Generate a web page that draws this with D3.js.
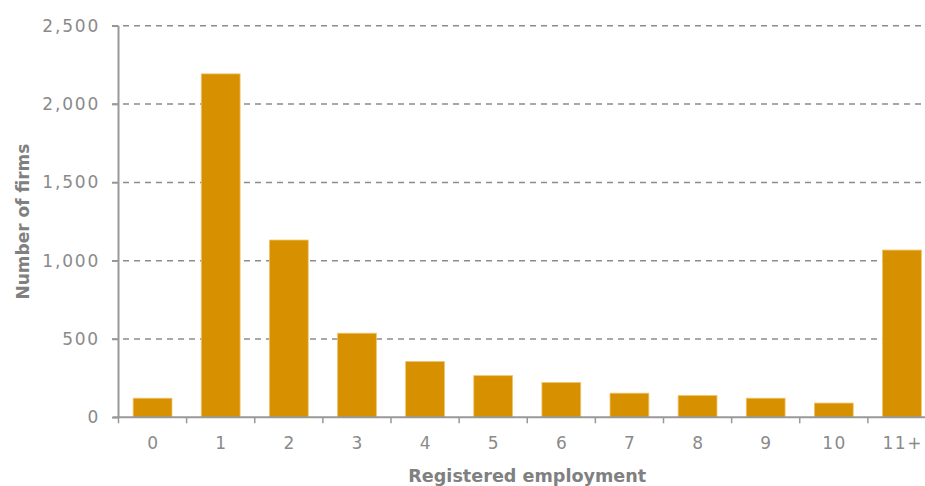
<!DOCTYPE html>
<html><head><meta charset="utf-8">
<script src="https://cdn.jsdelivr.net/npm/d3@7"></script>
<style>
html,body{margin:0;padding:0;background:#fff;overflow:hidden}
text{font-family:"DejaVu Sans",sans-serif}
</style></head>
<body><div id="chart"></div>
<script>
const categories = ["0","1","2","3","4","5","6","7","8","9","10","11+"];
const firms = [122, 2193, 1132, 537, 356, 266, 222, 154, 139, 122, 91, 1068];
const yTicks = [0, 500, 1000, 1500, 2000, 2500];
const xTitle = "Registered employment";
const yTitle = "Number of firms";

const W = 925, H = 486;
const m = {left:118.5, top:25.8, bottom:417.3, right:936};
const svg = d3.select("#chart").append("svg").attr("width", W).attr("height", H);

const x = d3.scaleBand().domain(categories).range([m.left, m.right]).paddingInner(0.43).paddingOuter(0.215);
const y = d3.scaleLinear().domain([0, 2500]).range([m.bottom, m.top]);

// gridlines
svg.append("g").selectAll("line").data(yTicks.filter(d=>d>0)).join("line")
  .attr("x1", 112).attr("x2", W).attr("y1", d=>y(d)).attr("y2", d=>y(d))
  .attr("stroke", "#8c8c8c").attr("stroke-width", 1.5).attr("stroke-dasharray", "6,5");

// bars
svg.append("g").selectAll("rect").data(categories).join("rect")
  .attr("x", d=>x(d)).attr("width", x.bandwidth())
  .attr("y", (d,i)=>y(firms[i])).attr("height", (d,i)=>y(0)-y(firms[i]))
  .attr("fill", "#d79000").attr("stroke", "#f1c46a").attr("stroke-width", 0.8);

// y axis
const yAxis = d3.axisLeft(y).tickValues(yTicks).tickFormat(d3.format(",")).tickSize(6.5).tickPadding(12);
const gy = svg.append("g").attr("transform", `translate(${m.left},0)`).call(yAxis);
gy.select(".domain").attr("stroke", "#999").attr("stroke-width", 2).attr("d", `M0,${m.top}V${m.bottom}`);
gy.selectAll(".tick line").attr("stroke", "#999").attr("stroke-width", 1.5);
gy.selectAll(".tick text").attr("fill", "#8a8a8a").style("font-size", "17px")
  .style("font-family", "DejaVu Sans, sans-serif").style("letter-spacing", "1.8px");

// x axis
const xScaleTicks = d3.scaleLinear().domain([0, categories.length]).range([m.left, m.right]);
const gx = svg.append("g").attr("transform", `translate(0,${m.bottom})`);
gx.append("line").attr("x1", m.left - 6).attr("x2", W).attr("y1", 0).attr("y2", 0).attr("stroke", "#999").attr("stroke-width", 2);
gx.selectAll(".xt").data(d3.range(categories.length + 1)).join("line").attr("class","xt")
  .attr("x1", d=>xScaleTicks(d)).attr("x2", d=>xScaleTicks(d)).attr("y1", 0).attr("y2", 6)
  .attr("stroke", "#999").attr("stroke-width", 1.5);
gx.selectAll("text").data(categories).join("text")
  .attr("x", d=>x(d) + x.bandwidth()/2 + 0.8).attr("y", 32)
  .attr("text-anchor", "middle").attr("fill", "#8a8a8a").style("font-size", "17px").style("letter-spacing", "1.6px")
  .text(d=>d);

// titles
svg.append("text").attr("x", (m.left + m.right)/2).attr("y", 482)
  .attr("text-anchor", "middle").attr("fill", "#808080").style("font-size", "17.6px").style("font-weight", "bold")
  .text(xTitle);
svg.append("text").attr("transform", `translate(29,${(m.top+m.bottom)/2}) rotate(-90)`)
  .attr("text-anchor", "middle").attr("fill", "#808080").style("font-size", "17px").style("font-weight", "bold")
  .text(yTitle);
</script></body></html>
